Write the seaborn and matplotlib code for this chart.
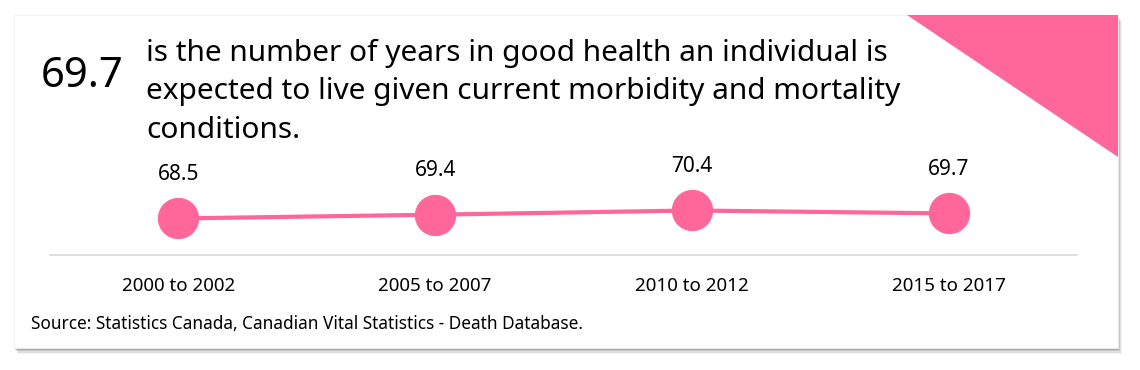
import pandas as pd
import seaborn as sns
import matplotlib.pyplot as plt
from matplotlib.patches import Rectangle, Polygon

# data
periods = ["2000 to 2002", "2005 to 2007", "2010 to 2012", "2015 to 2017"]
values = [68.5, 69.4, 70.4, 69.7]
headline_value = "69.7"
headline_text = ("is the number of years in good health an individual is\n"
                 "expected to live given current morbidity and mortality\n"
                 "conditions.")
source = "Source: Statistics Canada, Canadian Vital Statistics - Death Database."

pink = "#ff6699"
df = pd.DataFrame({"period": periods, "value": values})
df["pos"] = range(len(df))

sns.set_theme(style="white")
plt.rcParams['font.family'] = ['Noto Sans', 'DejaVu Sans']

W, H = 1140, 370
fig = plt.figure(figsize=(W / 100, H / 100), dpi=100)
fig.patch.set_facecolor("white")

def fx(px):
    return px / W

def fy(py):
    return 1 - py / H

# card with a soft shadow
for i, a in enumerate([0.05, 0.08, 0.11, 0.15]):
    off = 6 - i * 1.3
    fig.add_artist(Rectangle((fx(14 + off * 0.6), fy(348 + off)), fx(1104), 333 / H,
                             transform=fig.transFigure, facecolor="black",
                             alpha=a, edgecolor="none", zorder=0))
fig.add_artist(Rectangle((fx(14), fy(348)), fx(1104), 333 / H,
                         transform=fig.transFigure, facecolor="white",
                         edgecolor="#f0f0f0", lw=0.6, zorder=1))
# pink corner
fig.add_artist(Polygon([(fx(907), fy(15)), (fx(1118), fy(15)), (fx(1118), fy(157))],
                       closed=True, transform=fig.transFigure,
                       facecolor=pink, edgecolor="none", zorder=2))

# headline
fig.text(fx(41), fy(76), headline_value, fontsize=30, va="center", ha="left",
         color="black", zorder=3)
fig.text(fx(146), fy(39), headline_text, fontsize=21.5, va="top", ha="left",
         linespacing=1.42, color="black", zorder=3)

# line chart
ax = fig.add_axes([fx(50), fy(255), fx(1077 - 50), (255 - 150) / H])
ax.set_facecolor("none")
ax.set_zorder(3)
sns.lineplot(data=df, x="pos", y="value", ax=ax, color=pink, lw=3,
             marker="o", markersize=29, markeredgecolor=pink, markerfacecolor=pink)
for p, v in zip(df["pos"], df["value"]):
    ax.annotate(f"{v:.1f}", (p, v), xytext=(0, 31.5), textcoords="offset points",
                ha="center", va="center", fontsize=15, color="black")

ax.set_xlim(-0.5, 3.5)
ax.set_ylim(59.8, 84.8)
ax.set_xticks(df["pos"])
ax.set_xticklabels(periods, fontsize=13.5, color="black")
ax.tick_params(axis="x", length=0, pad=16)
ax.set_yticks([])
ax.set_xlabel("")
ax.set_ylabel("")
for s in ["top", "right", "left"]:
    ax.spines[s].set_visible(False)
ax.spines["bottom"].set_color("#d9d9d9")
ax.spines["bottom"].set_linewidth(1.2)

fig.text(fx(31), fy(324), source, fontsize=12.4, va="center", ha="left",
         color="black", zorder=3)

plt.savefig("out.png", dpi=100)
